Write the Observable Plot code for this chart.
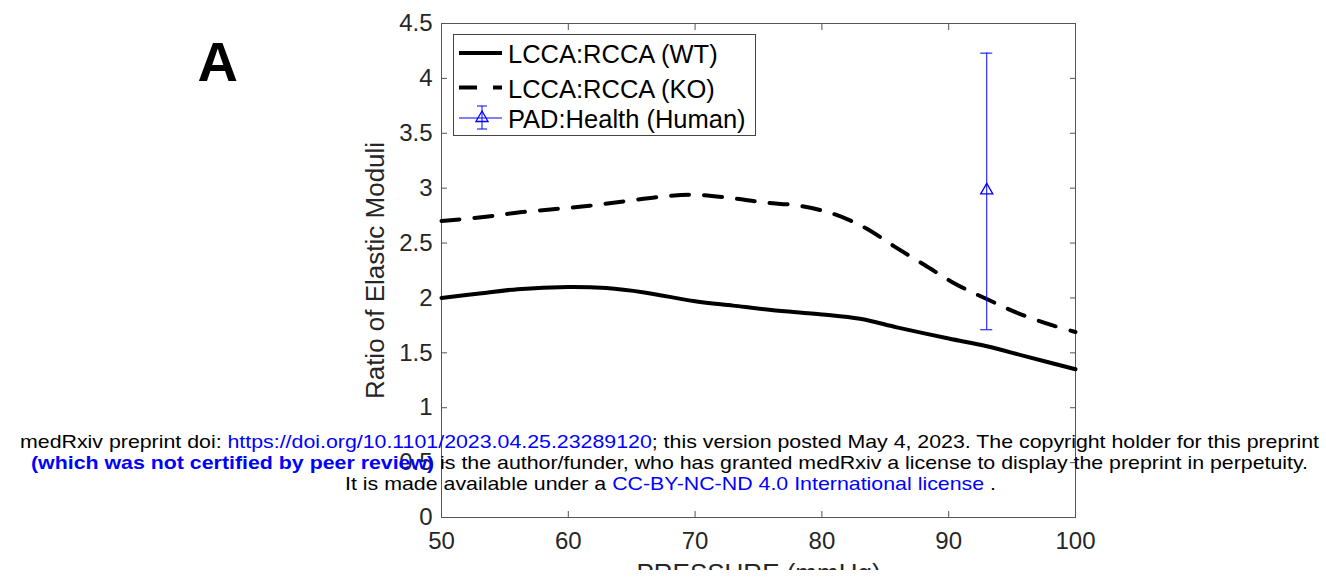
<!DOCTYPE html>
<html>
<head>
<meta charset="utf-8">
<script src="https://cdn.jsdelivr.net/npm/d3@7"></script>
<script src="https://cdn.jsdelivr.net/npm/@observablehq/plot@0.6"></script>
<style>
  html, body { margin: 0; padding: 0; background: white; overflow: hidden; }
  svg text { font-family: "Liberation Sans", Arial, sans-serif; }
</style>
</head>
<body>
<script>
// ---- data ----
const pressureWT = [50, 53, 56, 60, 63, 66, 70, 73, 76, 80, 83, 86, 90, 93, 96, 100];
const ratioWT    = [2.00, 2.04, 2.08, 2.10, 2.09, 2.05, 1.97, 1.93, 1.89, 1.85, 1.81, 1.73, 1.63, 1.56, 1.47, 1.35];

const pressureKO = [50, 53.5, 56.2, 59, 61.7, 64.4, 67.2, 69.9, 72.8, 75.4, 78.2, 80.8, 83.4, 85.7, 88.1, 90.5, 93, 95.5, 98.2, 100];
const ratioKO    = [2.70, 2.74, 2.78, 2.81, 2.84, 2.88, 2.92, 2.94, 2.91, 2.87, 2.84, 2.77, 2.64, 2.47, 2.30, 2.13, 1.99, 1.86, 1.75, 1.69];

const padPressure = [93];
const padMean = [2.98];
const padLow = [1.71];
const padHigh = [4.23];

const xTicks = [50, 60, 70, 80, 90, 100];
const yTicks = [0, 0.5, 1, 1.5, 2, 2.5, 3, 3.5, 4, 4.5];

const seriesNames = ["LCCA:RCCA (WT)", "LCCA:RCCA (KO)", "PAD:Health (Human)"];
const xLabel = ["PRESSURE (mmHg)"];
const yLabel = ["Ratio of Elastic Moduli"];
const panelLabel = ["A"];

const FONT = '"Liberation Sans", Arial, sans-serif';
const AX = "#262626";

const chart = Plot.plot({
  width: 1326,
  height: 582,
  marginLeft: 441,
  marginRight: 251,
  marginTop: 23,
  marginBottom: 65,
  x: {domain: [50, 100]},
  y: {domain: [0, 4.5]},
  style: {fontFamily: FONT, fontSize: "24px", color: AX, background: "white", overflow: "visible"},
  marks: [
    Plot.frame({stroke: "#555", strokeWidth: 1}),
    Plot.axisX(xTicks, {anchor: "bottom", tickSize: -6, tickPadding: 20, label: null, fontSize: 24, stroke: "#555", tickFormat: d => String(d)}),
    Plot.axisX(xTicks, {anchor: "top", tickSize: -6, tickFormat: () => "", label: null, stroke: "#555"}),
    Plot.axisY(yTicks, {anchor: "left", tickSize: -6, tickPadding: 15, label: null, fontSize: 24, stroke: "#555", tickFormat: d => String(d)}),
    Plot.axisY(yTicks, {anchor: "right", tickSize: -6, tickFormat: () => "", label: null, stroke: "#555"}),
    Plot.text(yLabel, {text: d => d, frameAnchor: "left", textAnchor: "middle", lineAnchor: "middle", rotate: -90, dx: -66, fontSize: 26, fill: AX}),
    Plot.text(xLabel, {text: d => d, frameAnchor: "bottom", textAnchor: "middle", dy: 46, lineAnchor: "top", fontSize: 26, fill: AX}),
    Plot.text(panelLabel, {text: d => d, frameAnchor: "top-left", textAnchor: "start", lineAnchor: "top", dx: -244, dy: 18, fontSize: 56, fontWeight: "bold", fill: "black"}),
    Plot.line(pressureWT, {x: pressureWT, y: ratioWT, stroke: "black", strokeWidth: 4, curve: "catmull-rom"}),
    Plot.line(pressureKO, {x: pressureKO, y: ratioKO, stroke: "black", strokeWidth: 4, strokeDasharray: "18,15", curve: "catmull-rom"}),
    Plot.ruleX(padPressure, {x: padPressure, y1: padLow, y2: padHigh, stroke: "blue", strokeWidth: 1}),
    Plot.ruleY(padLow, {y: padLow, x1: padPressure, x2: padPressure, insetLeft: -6, insetRight: -6, stroke: "blue", strokeWidth: 1}),
    Plot.ruleY(padHigh, {y: padHigh, x1: padPressure, x2: padPressure, insetLeft: -6, insetRight: -6, stroke: "blue", strokeWidth: 1}),
    Plot.dot(padPressure, {x: padPressure, y: padMean, symbol: "triangle", r: 4.5, stroke: "blue", fill: "none", strokeWidth: 1.3})
  ]
});
document.body.append(chart);

const svg = d3.select(chart);

// page crop: the reference image ends just below the top of the x-axis title
svg.append("rect").attr("x", 0).attr("y", 570).attr("width", 1326).attr("height", 12).attr("fill", "white");

// ---- legend ----
const lg = svg.append("g").attr("text-anchor", "start");
lg.append("rect").attr("x", 453.5).attr("y", 34.5).attr("width", 302).attr("height", 101)
  .attr("fill", "white").attr("stroke", "#444").attr("stroke-width", 1);
const rowY = [53, 87.5, 118];
const baseY = [63, 97.5, 128];
lg.append("line").attr("x1", 459).attr("x2", 502).attr("y1", rowY[0]).attr("y2", rowY[0])
  .attr("stroke", "black").attr("stroke-width", 4);
lg.append("line").attr("x1", 459).attr("x2", 502).attr("y1", rowY[1]).attr("y2", rowY[1])
  .attr("stroke", "black").attr("stroke-width", 4).attr("stroke-dasharray", "18,16");
lg.append("line").attr("x1", 459).attr("x2", 502).attr("y1", rowY[2]).attr("y2", rowY[2])
  .attr("stroke", "blue").attr("stroke-width", 1);
lg.append("line").attr("x1", 482).attr("x2", 482).attr("y1", 106).attr("y2", 129)
  .attr("stroke", "blue").attr("stroke-width", 1);
lg.append("line").attr("x1", 477).attr("x2", 487).attr("y1", 106).attr("y2", 106)
  .attr("stroke", "blue").attr("stroke-width", 1);
lg.append("line").attr("x1", 477).attr("x2", 487).attr("y1", 129).attr("y2", 129)
  .attr("stroke", "blue").attr("stroke-width", 1);
lg.append("path").attr("transform", `translate(482,${rowY[2]})`)
  .attr("d", d3.symbol(d3.symbolTriangle, 4.5 * 4.5 * Math.PI)())
  .attr("fill", "none").attr("stroke", "blue").attr("stroke-width", 1.3);
seriesNames.forEach((name, i) => {
  lg.append("text").attr("x", 508).attr("y", baseY[i]).attr("font-size", 25.5)
    .attr("text-anchor", "start").attr("fill", "black").text(name);
});

// ---- medRxiv watermark ----
const wm = [
  {x: 20, y: 447.5, len: 1299, segs: [
    ["medRxiv preprint doi: ", "black", "normal"],
    ["https://doi.org/10.1101/2023.04.25.23289120", "blue", "normal"],
    ["; this version posted May 4, 2023. The copyright holder for this preprint", "black", "normal"]]},
  {x: 31, y: 468.5, len: 1277, segs: [
    ["(which was not certified by peer review)", "blue", "bold"],
    [" is the author/funder, who has granted medRxiv a license to display the preprint in perpetuity.", "black", "normal"]]},
  {x: 345, y: 490, len: 651, segs: [
    ["It is made available under a ", "black", "normal"],
    ["CC-BY-NC-ND 4.0 International license", "blue", "normal"],
    [" .", "black", "normal"]]}
];
const wg = svg.append("g").attr("text-anchor", "start");
wm.forEach(line => {
  const t = wg.append("text").attr("x", line.x).attr("y", line.y).attr("font-size", 18.5)
    .attr("text-anchor", "start")
    .attr("textLength", line.len).attr("lengthAdjust", "spacingAndGlyphs")
    .attr("xml:space", "preserve").style("white-space", "pre");
  line.segs.forEach(([s, c, w]) => {
    t.append("tspan").attr("fill", c).attr("font-weight", w).text(s);
  });
});
</script>
</body>
</html>
